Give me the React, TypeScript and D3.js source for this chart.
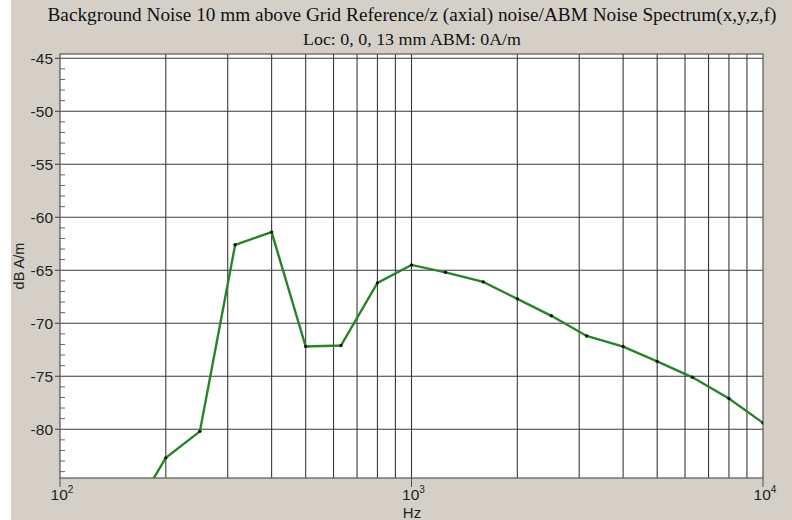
import * as d3 from "d3";

// 1/3-octave band centres (Hz) and levels (dB A/m)
const FREQS = [160, 200, 250, 315, 400, 500, 630, 800, 1000, 1250, 1600, 2000, 2500, 3150, 4000, 5000, 6300, 8000, 10000];
const LEVELS = [-88.1, -82.7, -80.2, -62.6, -61.4, -72.2, -72.1, -66.2, -64.5, -65.2, -66.1, -67.7, -69.3, -71.2, -72.2, -73.6, -75.1, -77.1, -79.4];
const Y_TICKS = [-45, -50, -55, -60, -65, -70, -75, -80];
const X_DECADES = [{ v: 100, e: "2" }, { v: 1000, e: "3" }, { v: 10000, e: "4" }];
const X_GRID = [200, 300, 400, 500, 600, 700, 800, 900, 1000, 2000, 3000, 4000, 5000, 6000, 7000, 8000, 9000];

const TITLE = "Background Noise 10 mm above Grid Reference/z (axial) noise/ABM Noise Spectrum(x,y,z,f)";
const SUBTITLE = "Loc: 0, 0, 13 mm ABM: 0A/m";

const W = 792, H = 520;
const L = 60, R = 763, T = 54, B = 478;

export default function App() {
  const x = d3.scaleLog().domain([100, 10000]).range([L, R]);
  const y = d3.scaleLinear().domain([-84.6, -44.6]).range([B, T]);
  const minor = d3.range(-84, -44, 1).filter(v => v % 5 !== 0);
  const pts = FREQS.map((f, i) => ({ f, v: LEVELS[i] }));
  const line = d3.line<{ f: number; v: number }>().x(d => x(d.f)).y(d => y(d.v));
  const grid = "#3a3a3a";
  const sans = "Arial, 'Liberation Sans', sans-serif";
  const serif = "'Liberation Serif', 'Times New Roman', serif";

  return (
    <svg width={W} height={H} style={{ position: "absolute", left: 0, top: 0 }}>
      <rect x={0} y={0} width={W} height={H} fill="#fff" />
      <rect x={11} y={0} width={W - 11} height={H} fill="#d4d0c8" />
      <text x={412} y={21} textAnchor="middle" fontFamily={serif} fontSize={18} fill="#111"
        textLength={729} lengthAdjust="spacingAndGlyphs">{TITLE}</text>
      <text x={412} y={45} textAnchor="middle" fontFamily={serif} fontSize={16} fill="#111"
        textLength={218} lengthAdjust="spacingAndGlyphs">{SUBTITLE}</text>

      <defs>
        <clipPath id="plot"><rect x={L} y={T} width={R - L} height={B - T} /></clipPath>
      </defs>
      <rect x={L} y={T} width={R - L} height={B - T} fill="#fff" />

      {X_GRID.map(f => (
        <line key={f} x1={x(f)} x2={x(f)} y1={T} y2={B} stroke={grid} strokeWidth={1.1} />
      ))}
      {Y_TICKS.map(t => (
        <line key={t} x1={L - 5} x2={R} y1={y(t)} y2={y(t)} stroke={grid} strokeWidth={1.1} />
      ))}
      {minor.map(t => (
        <line key={t} x1={L} x2={L + 5} y1={y(t)} y2={y(t)} stroke="#666" strokeWidth={1} />
      ))}
      <rect x={L} y={T} width={R - L} height={B - T} fill="none" stroke="#555" strokeWidth={1.2} />
      {X_DECADES.map(d => (
        <line key={d.v} x1={x(d.v)} x2={x(d.v)} y1={B} y2={B + 9} stroke="#555" strokeWidth={1} />
      ))}

      {Y_TICKS.map(t => (
        <text key={t} x={53} y={y(t) + 5.5} textAnchor="end" fontFamily={sans} fontSize={15.5} fill="#222">{t}</text>
      ))}
      {X_DECADES.map(d => (
        <text key={d.v} x={x(d.v) + 2} y={500} textAnchor="middle" fontFamily={sans} fontSize={15.5} fill="#222">
          10<tspan dy={-7} fontSize={10}>{d.e}</tspan>
        </text>
      ))}
      <text x={412} y={518} textAnchor="middle" fontFamily={sans} fontSize={15} fill="#222">Hz</text>
      <text transform={`translate(24,266) rotate(-90)`} textAnchor="middle" fontFamily={sans} fontSize={14.5} fill="#222">dB A/m</text>

      <g clipPath="url(#plot)">
        <path d={line(pts) ?? ""} fill="none" stroke="#2a8a2a" strokeWidth={2.4} />
        <path d={line(pts) ?? ""} fill="none" stroke="#1e5e1e" strokeWidth={0.6} opacity={0.5} />
        {pts.map(p => (
          <circle key={p.f} cx={x(p.f)} cy={y(p.v)} r={1.7} fill="#111" />
        ))}
      </g>
    </svg>
  );
}
